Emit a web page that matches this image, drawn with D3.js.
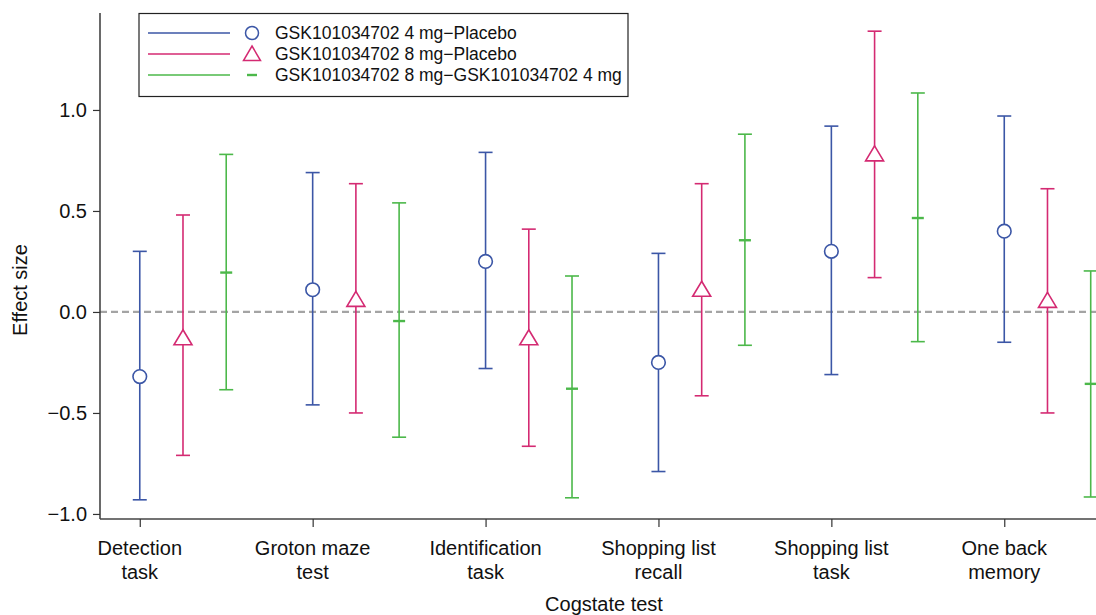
<!DOCTYPE html>
<html>
<head>
<meta charset="utf-8">
<script src="https://cdnjs.cloudflare.com/ajax/libs/d3/7.8.5/d3.min.js"></script>
<style>
  body { margin: 0; background: #fff; }
  text { font-family: "Liberation Sans", Arial, sans-serif; fill: #111; }
</style>
</head>
<body>
<div id="chart"></div>
<script>
// Cogstate tests (two-line tick labels)
var categories = [
    ["Detection", "task"],
    ["Groton maze", "test"],
    ["Identification", "task"],
    ["Shopping list", "recall"],
    ["Shopping list", "task"],
    ["One back", "memory"]
];

// GSK101034702 4 mg - Placebo
var est4 = [-0.32, 0.11, 0.25, -0.25, 0.30, 0.40];
var lo4  = [-0.93, -0.46, -0.28, -0.79, -0.31, -0.15];
var hi4  = [0.30, 0.69, 0.79, 0.29, 0.92, 0.97];

// GSK101034702 8 mg - Placebo
var est8 = [-0.13, 0.06, -0.13, 0.11, 0.78, 0.055];
var lo8  = [-0.71, -0.50, -0.665, -0.415, 0.17, -0.50];
var hi8  = [0.48, 0.635, 0.41, 0.635, 1.39, 0.61];

// GSK101034702 8 mg - GSK101034702 4 mg
var est84 = [0.195, -0.045, -0.38, 0.355, 0.465, -0.356];
var lo84  = [-0.385, -0.62, -0.92, -0.165, -0.147, -0.916];
var hi84  = [0.78, 0.54, 0.178, 0.88, 1.084, 0.203];

var yTicks = [-1.0, -0.5, 0.0, 0.5, 1.0];
var seriesNames = ["GSK101034702 4 mg\u2212Placebo",
                   "GSK101034702 8 mg\u2212Placebo",
                   "GSK101034702 8 mg\u2212GSK101034702 4 mg"];

var width = 1096, height = 615;
var colors = ["#3b56a6", "#d42a72", "#4cb84a"];
var offsets = [0, 0.25, 0.5];

var svg = d3.select("#chart").append("svg")
            .attr("width", width)
            .attr("height", height);

var x = d3.scaleLinear().domain([0.77, 6.6]).range([100, 1108]);
var y = d3.scaleLinear().domain([-1.025, 1.48]).range([519, 13]);

// zero reference line
svg.append("line")
   .attr("x1", x(0.77)).attr("x2", width)
   .attr("y1", y(0)).attr("y2", y(0))
   .attr("stroke", "#a4a4a4")
   .attr("stroke-width", 2.2)
   .attr("stroke-dasharray", "7,4");

// axes
var yAxis = svg.append("g")
   .attr("transform", "translate(100,0)")
   .call(d3.axisLeft(y).tickValues(yTicks).tickSize(7).tickPadding(6)
          .tickFormat(function(d) { return d3.format(".1f")(d).replace("-", "\u2212"); }));
yAxis.select(".domain").attr("d", "M0," + y(1.48) + "V" + y(-1.025));

var xAxis = svg.append("g")
   .attr("transform", "translate(0,519)")
   .call(d3.axisBottom(x).tickValues(d3.range(1, 7)).tickSize(8).tickFormat(""));
xAxis.select(".domain").attr("d", "M100,0H" + width);

svg.selectAll(".domain").attr("stroke", "#444").attr("stroke-width", 1.6);
svg.selectAll(".tick line").attr("stroke", "#333").attr("stroke-width", 1.2);
yAxis.selectAll("text").style("font-size", "20px").attr("fill", "#111")
     .style("font-family", "'Liberation Sans', Arial, sans-serif");

// two-line x labels
categories.forEach(function(lines, i) {
    var t = svg.append("text")
               .attr("x", x(i + 1))
               .attr("y", 555)
               .attr("text-anchor", "middle")
               .style("font-size", "20px");
    lines.forEach(function(s, k) {
        t.append("tspan").attr("x", x(i + 1)).attr("dy", k === 0 ? 0 : 24).text(s);
    });
});

// axis titles
svg.append("text")
   .attr("x", 604).attr("y", 611)
   .attr("text-anchor", "middle")
   .style("font-size", "20px")
   .text("Cogstate test");

svg.append("text")
   .attr("transform", "translate(27,290) rotate(-90)")
   .attr("text-anchor", "middle")
   .style("font-size", "20px")
   .text("Effect size");

// error bars
var allSeries = [
    {est: est4, lo: lo4, hi: hi4},
    {est: est8, lo: lo8, hi: hi8},
    {est: est84, lo: lo84, hi: hi84}
];

var capHalf = 7;
allSeries.forEach(function(s, si) {
    var g = svg.append("g");
    var col = colors[si];
    s.est.forEach(function(v, i) {
        var cx = x(i + 1 + offsets[si]);
        g.append("line")
         .attr("x1", cx).attr("x2", cx)
         .attr("y1", y(s.lo[i])).attr("y2", y(s.hi[i]))
         .attr("stroke", col).attr("stroke-width", 1.6);
        [s.lo[i], s.hi[i]].forEach(function(e) {
            g.append("line")
             .attr("x1", cx - capHalf).attr("x2", cx + capHalf)
             .attr("y1", y(e)).attr("y2", y(e))
             .attr("stroke", col).attr("stroke-width", 1.6);
        });
        if (si === 0) {
            g.append("circle")
             .attr("cx", cx).attr("cy", y(v)).attr("r", 6.8)
             .attr("fill", "#fff").attr("stroke", col).attr("stroke-width", 1.6);
        } else if (si === 1) {
            g.append("path")
             .attr("d", "M0,-8.5L9,6.5L-9,6.5Z")
             .attr("transform", "translate(" + cx + "," + y(v) + ")")
             .attr("fill", "#fff").attr("stroke", col).attr("stroke-width", 1.6);
        } else {
            g.append("line")
             .attr("x1", cx - 6).attr("x2", cx + 6)
             .attr("y1", y(v)).attr("y2", y(v))
             .attr("stroke", col).attr("stroke-width", 2.4);
        }
    });
});

// legend
var leg = svg.append("g");
leg.append("rect")
   .attr("x", 139).attr("y", 13.5)
   .attr("width", 489).attr("height", 83)
   .attr("fill", "#fff").attr("stroke", "#222").attr("stroke-width", 1.2);

seriesNames.forEach(function(name, i) {
    var ly = 33 + i * 21;
    leg.append("line")
       .attr("x1", 148).attr("x2", 230)
       .attr("y1", ly).attr("y2", ly)
       .attr("stroke", colors[i]).attr("stroke-width", 1.4);
    if (i === 0) {
        leg.append("circle").attr("cx", 252).attr("cy", ly).attr("r", 6.5)
           .attr("fill", "none").attr("stroke", colors[i]).attr("stroke-width", 1.5);
    } else if (i === 1) {
        leg.append("path").attr("d", "M0,-8L8.5,6.5L-8.5,6.5Z")
           .attr("transform", "translate(252," + ly + ")")
           .attr("fill", "none").attr("stroke", colors[i]).attr("stroke-width", 1.5);
    } else {
        leg.append("line").attr("x1", 247).attr("x2", 257)
           .attr("y1", ly).attr("y2", ly)
           .attr("stroke", colors[i]).attr("stroke-width", 2.4);
    }
    leg.append("text")
       .attr("x", 275).attr("y", ly + 6)
       .style("font-size", "17.5px")
       .text(name);
});
</script>
</body>
</html>
